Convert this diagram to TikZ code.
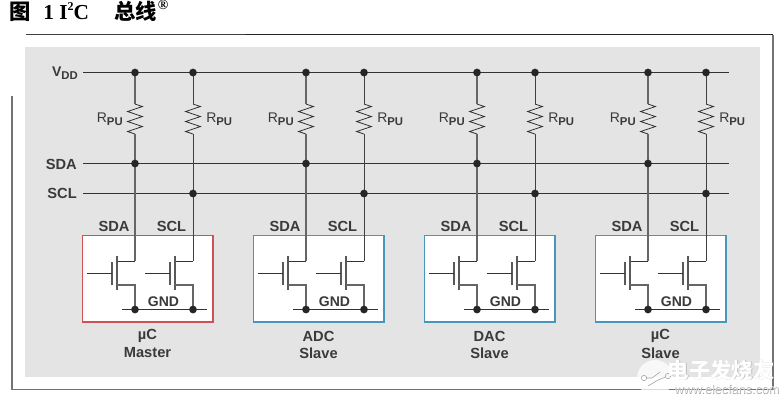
\documentclass[tikz,border=0pt]{standalone}
\usepackage{fontspec}
\setmainfont{Liberation Sans}
\newfontfamily\titlefont{Liberation Serif}
\newfontfamily\cjkfont{Noto Sans CJK SC}
\usetikzlibrary{positioning,calc,decorations.pathmorphing}
\definecolor{panelgray}{RGB}{228,228,228}
\definecolor{textgray}{RGB}{58,58,58}
\definecolor{masterred}{RGB}{208,80,88}
\definecolor{slaveblue}{RGB}{70,150,190}
\tikzset{
  wire/.style={line width=0.6pt,black!80},
  wirea/.style={line width=0.9pt,black!60},
  wireb/.style={line width=0.7pt,black!75},
  fetbar/.style={line width=0.9pt,black!65},
  dot/.style={circle,fill=black!85,inner sep=0pt,minimum size=5.8pt},
  lbl/.style={font=\fontsize{11}{12}\selectfont\bfseries,text=textgray,inner sep=0pt},
  rlbl/.style={font=\fontsize{10.5}{11}\selectfont,text=textgray,inner sep=0pt},
  res/.style={decorate,decoration={zigzag,segment length=7.5pt,amplitude=5.6pt}},
  chipbox/.style={draw=#1,line width=1pt,fill=white,minimum width=98pt,minimum height=65pt,inner sep=0pt},
  ttl/.style={anchor=base west,inner sep=0pt,font=\fontsize{16}{17}\selectfont\bfseries},
}
\begin{document}
\begin{tikzpicture}[x=0.75pt,y=0.75pt]
\useasboundingbox (0,0) rectangle (784,-405);
% heading
\node[ttl] (tfig) at (9.5,-19) {\cjkfont 图};
\node[ttl] (tnum) at (43,-19) {\titlefont 1 I\raisebox{0.42em}{\fontsize{9}{9}\selectfont 2}C};
\node[ttl] (tbus) at (114,-19) {\cjkfont 总线};
\node[ttl] (treg) at (157.5,-9) {\titlefont\fontsize{10.5}{11}\selectfont\textregistered};
% frame and panel
\draw[black!55,line width=0.9pt] (773,-34.5) -- (773,-389.5) -- (12,-389.5) -- (12,-96);
\draw[black!85,line width=0.6pt] (245,-34.5) -- (773,-34.5);
\draw[black!75,line width=0.9pt] (26,-34.5) -- (245,-34.5);
\fill[panelgray] (25,-47) rectangle (760,-376.5);
% busses
\coordinate (vddl) at (83,-72.5);  \coordinate (vddr) at (729,-72.5);
\coordinate (sdal) at (83,-163.5); \coordinate (sdar) at (729,-163.5);
\coordinate (scll) at (83,-193.5); \coordinate (sclr) at (729,-193.5);
\draw[wire] (vddl) -- (vddr);
\draw[wire] (sdal) -- (sdar);
\draw[wire] (scll) -- (sclr);
\node[lbl,anchor=east] (vdd) at (78,-73) {\fontsize{10.5}{11}\selectfont V\raisebox{-0.25em}{\fontsize{8.5}{9}\selectfont DD}};
\node[lbl,anchor=east] (sda) at (77,-164) {SDA};
\node[lbl,anchor=east] (scl) at (77,-193.5) {SCL};
% four devices
\foreach \n/\cx/\xa/\xb/\col/\la/\lb in {
  1/147.5/135/193/masterred/µC/Master,
  2/318.5/306/364/slaveblue/ADC/Slave,
  3/489.5/477/535/slaveblue/DAC/Slave,
  4/660.5/648/706/slaveblue/µC/Slave}{
  \node[chipbox=\col] (box\n) at (\cx,-278.5) {};
  \node[lbl] (nameu\n) at (\cx,-336) {\la};
  \node[lbl] (namel\n) at (\cx,-353) {\lb};
  \draw[wire] (\xa-13,-309.5) coordinate (gl\n) -- (\xa+72,-309.5) coordinate (gr\n);
  \node[lbl,font=\fontsize{10.5}{11}\selectfont\bfseries] (gnd\n) at (\xa+28.5,-302) {GND};
  \node[lbl] (lsda\n) at (\xa-21,-226) {SDA};
  \node[lbl] (lscl\n) at (\xa+36.5,-226) {SCL};
  % pull-ups and fets
  \foreach \k/\x/\vw in {a/\xa/wirea,b/\xb/wireb}{
    \coordinate (top\n\k) at (\x,-72.5);
    \coordinate (rs\n\k) at (\x,-104);
    \coordinate (re\n\k) at (\x,-134);
    \coordinate (dr\n\k) at (\x,-261);
    \coordinate (sr\n\k) at (\x,-285);
    \coordinate (gn\n\k) at (\x,-309.5);
    \draw[\vw] (top\n\k) -- (rs\n\k);
    \draw[wire,res] (rs\n\k) -- (re\n\k);
    \draw[\vw] (re\n\k) -- (dr\n\k);
    \draw[wire] (dr\n\k) -- ++(-18,0) coordinate (ch\n\k);
    \draw[fetbar] ($(ch\n\k)+(0,5)$) -- ($(ch\n\k)+(0,-29)$);
    \draw[fetbar] ($(ch\n\k)+(-5,-1)$) -- ($(ch\n\k)+(-5,-24)$);
    \draw[wire] ($(ch\n\k)+(-5,-12)$) -- ++(-25,0);
    \draw[wirea] ($(ch\n\k)+(0,-24)$) -- (sr\n\k) -- (gn\n\k);
    \node[dot] (dg\n\k) at (gn\n\k) {};
    \node[dot] (dv\n\k) at (top\n\k) {};
  }
  \node[dot] (ds\n) at (\xa,-163.5) {};
  \node[dot] (dc\n) at (\xb,-193.5) {};
  \node[rlbl,anchor=east] (rpa\n) at (\xa-12,-119) {R\raisebox{-0.25em}{\fontsize{8.5}{9}\selectfont\bfseries PU}};
  \node[rlbl,anchor=west] (rpb\n) at (\xb+13,-119) {R\raisebox{-0.25em}{\fontsize{8.5}{9}\selectfont\bfseries PU}};
}
% watermark
\fill[white,opacity=0.75] (655,-378) circle[radius=18];
\node[draw=black!40,circle,inner sep=0pt,minimum size=4pt] (wma) at (644,-378) {};
\node[draw=black!40,circle,inner sep=0pt,minimum size=4pt] (wmb) at (668,-376) {};
\draw[black!40,line width=0.4pt] (wma) -- (652,-378) -- (660,-372);
\draw[black!40,line width=0.4pt] (wmb) -- (658,-380) -- (648,-386);
\node[inner sep=0pt,text=black!25] (wmcs) at (721.6,-370.6) {\fontsize{16}{17}\selectfont\bfseries\cjkfont 电子发烧友};
\node[inner sep=0pt,text=white] (wmc) at (721,-370) {\fontsize{16}{17}\selectfont\bfseries\cjkfont 电子发烧友};
\node[inner sep=0pt,text=black!35] (wmws) at (727.5,-389.5) {\fontsize{9.5}{10}\selectfont www.elecfans.com};
\node[inner sep=0pt,text=white,opacity=0.6] (wmw) at (727,-389) {\fontsize{9.5}{10}\selectfont www.elecfans.com};
\end{tikzpicture}
\end{document}
